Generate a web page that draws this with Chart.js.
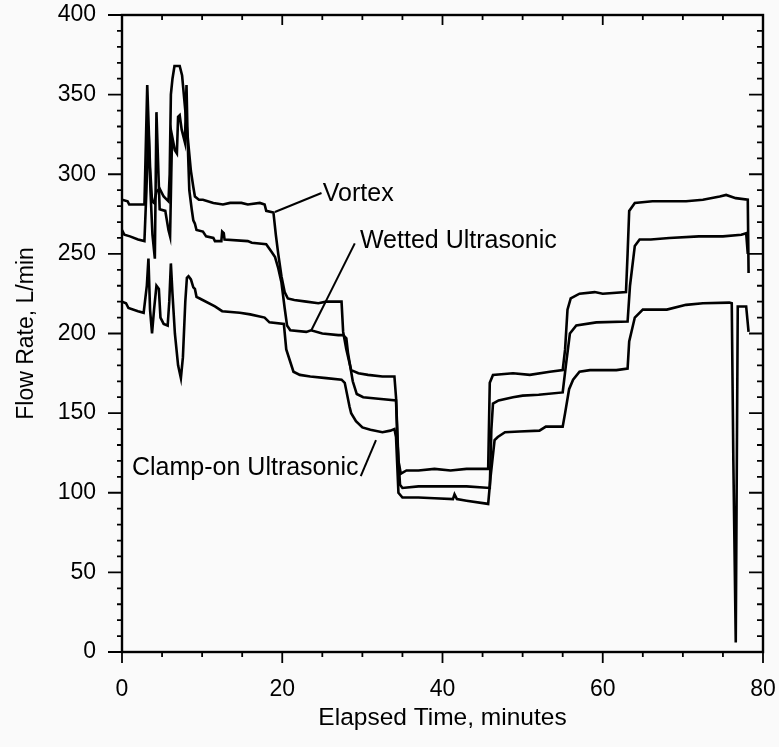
<!DOCTYPE html>
<html><head><meta charset="utf-8">
<script src="https://cdn.jsdelivr.net/npm/chart.js@4.4.0/dist/chart.umd.min.js"></script>
<style>html,body{margin:0;padding:0;background:#fafafa}canvas{display:block}</style>
</head><body>
<canvas id="c" width="779" height="747"></canvas>
<script>
// ═══════════════════════════════════════════
// flow meters vs elapsed time
// ═══════════════════════════════════════════
const vortexT=[0,0.7,0.9,2.8,3.15,3.5,3.75,4.0,4.3,4.7,5.2,5.8,5.95,6.1,6.3,6.55,7.2,7.5,7.9,8.3,8.6,8.9,9.1,9.6,10.1,11.4,12.6,13.5,14.9,15.7,17.2,17.8,18.0,18.9,19.2,19.5,19.9,20.3,20.7,21.5,23,24.5,25.5,27.4,27.6,28.0,28.6,29.5,30.7,32.5,34.0,34.2,34.5,34.8,35.5,37,39,41,43,45.7,45.9,46.3,48.8,50.9,53.4,55.0,55.3,55.6,56.0,57.1,59.0,60.0,62.9,63.1,63.3,64.0,66.2,70.4,72.5,74.6,75.4,76.6,78.1,78.2];
const vortexQ=[284,283,281,281,356,305,283,282,289,291,286,283,300,350,360,368,368,362,340,318,302,292,286,284,284,282,281,282,282,281,282,281,277,276,262,250,236,226,222,221,220,219,220,220,201,190,177,175,174,173,173,160,120,112,114,114,115,114,115,115,169,174,175,174,176,177,190,215,222,225,226,225,226,250,277,282,283,283,284,286,287,285,284,238];

const wettedT=[0,0.3,1.0,2.0,2.8,3.05,3.3,3.55,3.8,4.1,4.3,4.55,4.7,5.4,5.8,6.0,6.15,6.25,6.6,6.85,7.0,7.2,7.45,7.85,8.05,8.2,8.4,8.7,8.9,9.1,9.3,10.1,10.5,11.4,11.6,12.4,12.5,12.7,12.8,15.7,16.2,18.0,18.7,19.1,19.5,19.9,20.3,20.6,21.0,23.0,23.6,25.0,27.0,27.6,28.0,28.2,28.8,29.3,30.1,32.0,34.2,34.4,34.7,35.0,37,40,43,45.9,46.1,46.3,47.0,48.8,50.0,52.0,55.0,55.4,55.9,56.7,59.2,63.1,63.4,64.0,64.6,66.0,68.3,72.0,75.0,77.3,77.9,78.1];
const wettedQ=[265,262,261,259,258,290,330,290,262,247,339,300,278,277,265,261,300,324,315,313,336,337,328,320,356,320,290,278,271,269,265,264,261,260,258,258,264,263,259,258,257,256,251,248,241,232,216,205,202,201,202,200,199,199,197,188,170,162,160,159,158,130,105,103,104,104,104,103,140,156,158,160,161,161.5,163,180,200,205,207,207.5,230,255,259,259,260,261,261,262,263,250];

const clampT=[0,0.5,0.8,2.0,2.7,3.1,3.3,3.5,3.75,4.0,4.3,4.6,4.8,5.2,5.7,5.9,6.1,6.3,6.6,7.0,7.35,7.6,7.9,8.1,8.3,8.6,8.9,9.1,9.3,9.7,11.6,12.5,14.7,16.0,17.8,18.4,20.2,20.5,21.4,22.2,23.5,25.5,27.4,27.8,28.4,28.6,29.2,30.0,31.0,32.5,33.5,34.0,34.2,34.5,35.0,37.0,39.0,41.3,41.5,41.8,43.0,45.7,46.0,46.5,46.9,47.8,49.6,52.1,52.9,55.0,55.3,55.8,56.3,57.1,58.4,61.7,63.1,63.3,64.0,65.0,68.0,70.4,72.5,75.8,76.1,76.3,76.6,76.85,77.9,78.2];
const clampQ=[220,219,216,214,213,230,247,215,200,215,230,228,210,206,205,220,244,225,200,180,172,185,220,235,236,234,229,228,223,222,217,214,213,212,210,207,206,190,176,174,173,172,171,169,154,150,145,141,139.5,138,139,140,135,100,97,97,96.5,96,99,96,95,93,110,133,135,138,138.5,139,141.5,141.5,150,165,171,176,177,177,178,195,210,215,215,218,219,219.4,219,120,6,217,217,201];

const yTicks=[0,50,100,150,200,250,300,350,400];
const xTicks=[0,20,40,60,80];

// callouts in data coords: text anchor + leader line
const notes=[
  {text:"Vortex",at:[25.06,287.6],from:[19.08,276.3],to:[24.9,288.2]},
  {text:"Wetted Ultrasonic",at:[29.7,257.8],from:[23.65,202.2],to:[29.05,256.6]},
  {text:"Clamp-on Ultrasonic",at:[1.25,115.5],from:[29.8,110.5],to:[31.7,133]},
];

const FONT="'Liberation Sans',Arial,Helvetica,sans-serif";
const pts=(t,q)=>t.map((x,i)=>({x,y:q[i]}));
const line=(label,t,q)=>({label,data:pts(t,q),showLine:true,borderColor:"#000",borderWidth:2.6,pointRadius:0,tension:0,fill:false});

const frame={id:"frame",afterDraw(ch){
  const {ctx,chartArea:a,scales:{x,y}}=ch;
  ctx.save();
  ctx.strokeStyle="#000";ctx.lineWidth=2.4;
  ctx.strokeRect(a.left,a.top,a.right-a.left,a.bottom-a.top);
  ctx.lineWidth=1.8;ctx.beginPath();
  for(let v=0;v<=400;v+=10){
    const p=y.getPixelForValue(v),big=v%50===0;
    ctx.moveTo(a.left,p);ctx.lineTo(a.left-(big?14:5),p);
    ctx.moveTo(a.right,p);ctx.lineTo(a.right-(big?14:6),p);
  }
  for(let v=0;v<=80;v+=5){
    const p=x.getPixelForValue(v),big=v%20===0;
    ctx.moveTo(p,a.bottom);ctx.lineTo(p,a.bottom+(big?11:5));
    ctx.moveTo(p,a.top);ctx.lineTo(p,a.top+(big?10:5));
  }
  ctx.stroke();
  // callouts
  ctx.fillStyle="#000";ctx.font="25px "+FONT;ctx.textBaseline="middle";ctx.textAlign="left";
  ctx.lineWidth=2;
  notes.forEach(n=>{
    ctx.beginPath();
    ctx.moveTo(x.getPixelForValue(n.from[0]),y.getPixelForValue(n.from[1]));
    ctx.lineTo(x.getPixelForValue(n.to[0]),y.getPixelForValue(n.to[1]));
    ctx.stroke();
    ctx.fillText(n.text,x.getPixelForValue(n.at[0]),y.getPixelForValue(n.at[1]));
  });
  ctx.restore();
}};

new Chart(document.getElementById("c"),{
  type:"scatter",
  data:{datasets:[line("Vortex",vortexT,vortexQ),line("Wetted Ultrasonic",wettedT,wettedQ),line("Clamp-on Ultrasonic",clampT,clampQ)]},
  options:{
    responsive:false,animation:false,
    layout:{padding:{top:15,right:16,left:0,bottom:0}},
    plugins:{legend:{display:false},tooltip:{enabled:false}},
    scales:{
      x:{type:"linear",min:0,max:80,
        afterFit:s=>{s.height=95;s.paddingLeft=0;s.paddingRight=0;},
        afterBuildTicks:s=>{s.ticks=xTicks.map(v=>({value:v}));},
        border:{display:false},
        grid:{drawOnChartArea:false,tickLength:11,tickColor:"rgba(0,0,0,0)"},
        ticks:{color:"#000",font:{family:FONT,size:23},padding:13,maxRotation:0,autoSkip:false},
        title:{display:true,text:"Elapsed Time, minutes",color:"#000",font:{family:FONT,size:24.5},padding:{top:0,bottom:14}}},
      y:{type:"linear",min:0,max:400,
        afterFit:s=>{s.width=122;s.paddingTop=0;s.paddingBottom=0;},
        afterBuildTicks:s=>{s.ticks=yTicks.map(v=>({value:v}));},
        border:{display:false},
        grid:{drawOnChartArea:false,tickLength:14,tickColor:"rgba(0,0,0,0)"},
        ticks:{color:"#000",font:{family:FONT,size:23},padding:12,autoSkip:false},
        title:{display:true,text:"Flow Rate, L/min",color:"#000",font:{family:FONT,size:23},padding:{top:13,bottom:0}}}
    }
  },
  plugins:[frame]
});
</script>
</body></html>
